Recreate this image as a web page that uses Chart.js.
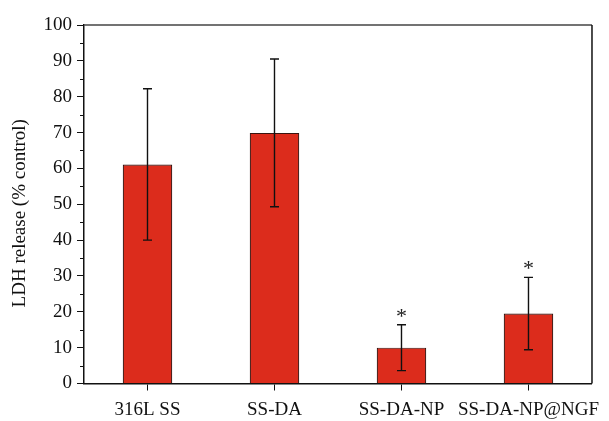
<!DOCTYPE html>
<html>
<head>
<meta charset="utf-8">
<script src="https://cdn.jsdelivr.net/npm/chart.js@4"></script>
<style>
  html, body { margin: 0; padding: 0; background: #fff; }
  #wrap { width: 609px; height: 421px; }
</style>
</head>
<body>
<div id="wrap"><canvas id="c"></canvas></div>
<script>
// LDH release of each surface, mean ± SD (% of control)
const categories = ['316L SS', 'SS-DA', 'SS-DA-NP', 'SS-DA-NP@NGF'];
const ldhMean = [61.1, 69.9, 10.0, 19.5];
const ldhSD = [21.1, 20.6, 6.4, 10.1];
const significance = ['', '', '*', '*'];
const yTicks = [0, 10, 20, 30, 40, 50, 60, 70, 80, 90, 100];
const yTitle = 'LDH release (% control)';

const FONT = "'Liberation Serif', 'DejaVu Serif', serif";

// Frame, minor ticks, axis title, error bars and significance marks
const decorations = {
  id: 'decorations',
  afterDatasetsDraw(chart) {
    const { ctx, chartArea: a, scales: { x, y } } = chart;
    ctx.save();
    // top and right frame lines
    ctx.strokeStyle = '#444';
    ctx.lineWidth = 1.5;
    ctx.beginPath();
    ctx.moveTo(a.left, a.top);
    ctx.lineTo(a.right, a.top);
    ctx.stroke();
    ctx.strokeStyle = '#111';
    ctx.beginPath();
    ctx.moveTo(a.right, a.top);
    ctx.lineTo(a.right, a.bottom);
    ctx.stroke();
    // minor ticks on the y axis
    ctx.strokeStyle = '#111';
    ctx.lineWidth = 1;
    for (let i = 0; i < yTicks.length - 1; i++) {
      const v = (yTicks[i] + yTicks[i + 1]) / 2;
      const py = Math.round(y.getPixelForValue(v)) + 0.5;
      ctx.beginPath();
      ctx.moveTo(a.left - 4, py);
      ctx.lineTo(a.left, py);
      ctx.stroke();
    }
    // vertical axis title
    ctx.save();
    ctx.translate(20, (a.top + a.bottom) / 2 + 9);
    ctx.rotate(-Math.PI / 2);
    ctx.fillStyle = '#111';
    ctx.font = '19px ' + FONT;
    ctx.textAlign = 'center';
    ctx.textBaseline = 'middle';
    ctx.fillText(yTitle, 0, 0);
    ctx.restore();
    // error bars
    ctx.strokeStyle = '#111';
    ctx.lineWidth = 1.4;
    ctx.fillStyle = '#222';
    ctx.font = '22px ' + FONT;
    ctx.textAlign = 'center';
    ctx.textBaseline = 'alphabetic';
    ldhMean.forEach((m, i) => {
      const px = x.getPixelForValue(i);
      const hi = y.getPixelForValue(m + ldhSD[i]);
      const lo = y.getPixelForValue(m - ldhSD[i]);
      ctx.beginPath();
      ctx.moveTo(px, hi);
      ctx.lineTo(px, lo);
      ctx.moveTo(px - 4.5, hi);
      ctx.lineTo(px + 4.5, hi);
      ctx.moveTo(px - 4.5, lo);
      ctx.lineTo(px + 4.5, lo);
      ctx.stroke();
      if (significance[i]) {
        ctx.fillText(significance[i], px, hi - 2);
      }
    });
    ctx.restore();
  }
};

new Chart(document.getElementById('c'), {
  type: 'bar',
  data: {
    labels: categories,
    datasets: [{
      data: ldhMean,
      backgroundColor: '#DC2C1C',
      borderColor: '#3a1510',
      borderWidth: 1.2,
      borderSkipped: 'bottom',
      categoryPercentage: 1,
      barPercentage: 0.39
    }]
  },
  options: {
    responsive: true,
    maintainAspectRatio: false,
    animation: false,
    events: [],
    layout: { padding: { top: 25, right: 16, left: 0, bottom: 0 } },
    plugins: { legend: { display: false }, tooltip: { enabled: false } },
    scales: {
      x: {
        offset: true,
        grid: { display: true, drawOnChartArea: false, offset: false, color: '#111', tickLength: 7, lineWidth: 1 },
        border: { display: true, color: '#111', width: 1.5 },
        ticks: { color: '#111', font: { family: FONT, size: 19 }, padding: 8, maxRotation: 0, autoSkip: false },
        afterFit(s) { s.height = 37.5; }
      },
      y: {
        min: 0,
        max: 100,
        afterBuildTicks(s) { s.ticks = yTicks.map(v => ({ value: v })); },
        grid: { display: true, drawOnChartArea: false, color: '#111', tickLength: 7, lineWidth: 1 },
        border: { display: true, color: '#111', width: 1.5 },
        ticks: { color: '#111', font: { family: FONT, size: 19 }, padding: 5 },
        title: { display: false },
        afterFit(s) { s.width = 84; }
      }
    }
  },
  plugins: [decorations]
});
</script>
</body>
</html>
